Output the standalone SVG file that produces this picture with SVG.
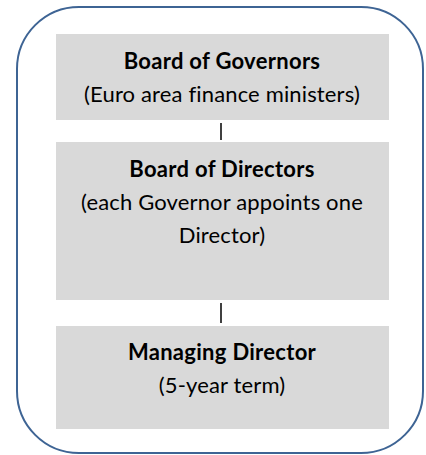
<svg xmlns="http://www.w3.org/2000/svg" width="426" height="455" viewBox="0 0 426 455">
<style>
.box{fill:#d9d9d9}
.t{font-family:Lato,"Open Sans","Liberation Sans",sans-serif;font-size:22px;letter-spacing:0.15px;fill:#000;text-anchor:middle}
.b{font-weight:bold;letter-spacing:0.3px}
.c{stroke:#000;stroke-width:1.5;fill:none}
</style>
<rect x="17" y="7" width="406" height="446" rx="62" ry="62" fill="#fff" stroke="#3e6494" stroke-width="2"/>
<g id="connectors">
<line class="c" x1="221" y1="123" x2="221" y2="140"/>
<line class="c" x1="221" y1="303" x2="221" y2="323"/>
</g>
<g id="governors">
<rect class="box" x="56" y="34" width="333" height="86"/>
<text class="t b" x="222" y="69">Board of Governors</text>
<text class="t" x="222" y="102">(Euro area finance ministers)</text>
</g>
<g id="directors">
<rect class="box" x="56" y="142" width="333" height="158"/>
<text class="t b" x="222" y="177">Board of Directors</text>
<text class="t" x="222" y="210">(each Governor appoints one</text>
<text class="t" x="222" y="243">Director)</text>
</g>
<g id="managing">
<rect class="box" x="56" y="326" width="333" height="103"/>
<text class="t b" x="222" y="360">Managing Director</text>
<text class="t" x="222" y="393">(5-year term)</text>
</g>
</svg>
